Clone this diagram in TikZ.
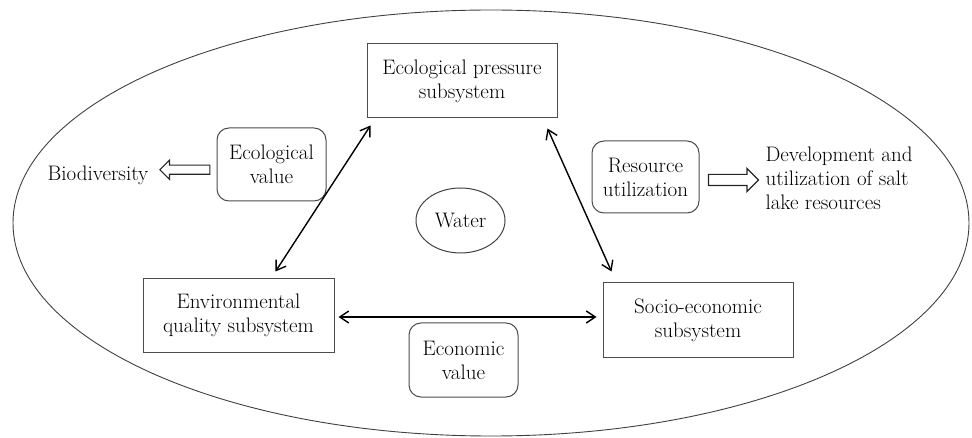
\documentclass[tikz,border=0pt]{standalone}
\usepackage{fontspec}
\usetikzlibrary{arrows.meta,shapes.geometric,shapes.arrows,calc}
\begin{document}
\begin{tikzpicture}[x=1pt,y=-1pt,
  font=\fontsize{21}{24}\selectfont,
  box/.style={draw=black!70, line width=1pt, align=center, inner sep=0pt},
  rbox/.style={box, rounded corners=12pt},
  bi/.style={line width=1.4pt, {Straight Barb[length=9pt,width=12pt]}-{Straight Barb[length=9pt,width=12pt]}},
  hollow/.style={single arrow, draw=black!85, line width=1.2pt, single arrow head indent=0pt, minimum height=50pt}
]
\useasboundingbox (0,0) rectangle (972,438);
\draw[black!75, line width=0.9pt] (491,223) ellipse [x radius=478pt, y radius=213pt];

\node[box, minimum width=190pt, minimum height=74pt] (ep) at (462,81) {Ecological pressure\\subsystem};
\node[rbox, minimum width=109pt, minimum height=73pt] (ev) at (271.5,164.5) {Ecological\\value};
\node[rbox, minimum width=107pt, minimum height=72pt] (ru) at (645.5,177) {Resource\\utilization};
\node[box, minimum width=191pt, minimum height=73pt] (env) at (238.5,315.5) {Environmental\\quality subsystem};
\node[box, minimum width=190pt, minimum height=74pt] (soc) at (698,320) {Socio-economic\\subsystem};
\node[rbox, minimum width=109pt, minimum height=74pt] (ecv) at (463.5,360) {Economic\\value};
\node[ellipse, draw=black!75, line width=1pt, minimum width=89pt, minimum height=65pt, inner sep=0pt] (water) at (460.5,220.5) {Water};

\node (bio) at (98,175) {Biodiversity};
\node[anchor=west, align=left] (dev) at (762,178) {Development and\\utilization of salt\\lake resources};

\draw[bi] ([shift={(4,7)}]ep.south west) -- ([shift={(-59,-7)}]env.north east);
\draw[bi] ([shift={(-10,10)}]ep.south east) -- ([shift={(9,-11)}]soc.north west);
\draw[bi] ([xshift=4pt,yshift=-1.5pt]env.east) -- ([xshift=-6pt,yshift=-1.5pt]env.east -| soc.west);

\node[hollow, inner sep=4pt, single arrow head extend=5pt, shape border rotate=180] (a1) at ([xshift=3pt]$(ev.west)!0.5!(bio.east)$) {};
\node[hollow, inner sep=5pt, single arrow head extend=6pt] (a2) at ($(ru.east)!0.5!(dev.west)+(0,2.5)$) {};
\end{tikzpicture}
\end{document}
